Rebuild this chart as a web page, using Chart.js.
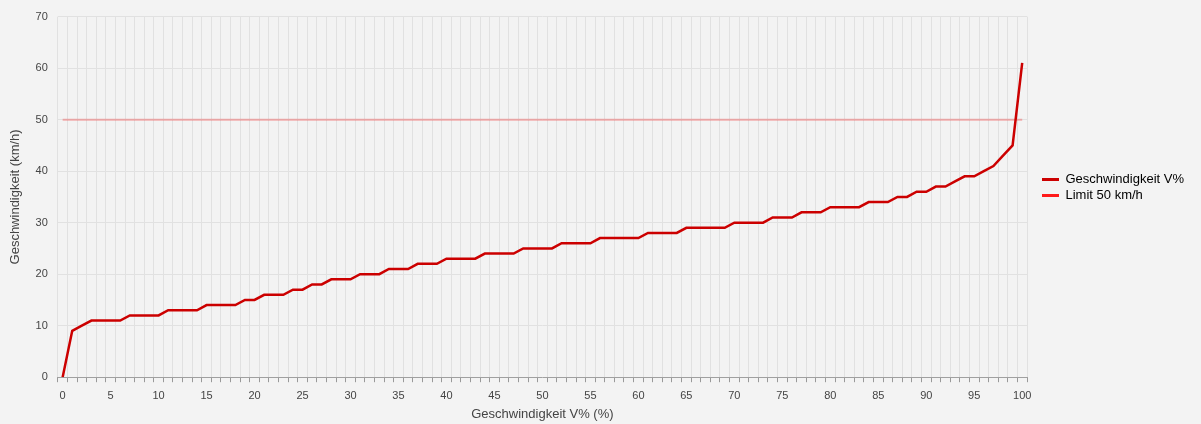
<!DOCTYPE html>
<html>
<head>
<meta charset="utf-8">
<title>Geschwindigkeit V%</title>
<script src="https://cdn.jsdelivr.net/npm/chart.js@4.4.1/dist/chart.umd.min.js"></script>
<style>
   html, body { margin: 0; padding: 0; background: #f3f3f3; }
   #wrap { width: 1201px; height: 424px; }
</style>
</head>
<body>
<div id="wrap"><canvas id="speedChart" width="1201" height="424"></canvas></div>
<script>
'use strict';

// percentile categories (V%)
var percentLabels = [0, 1, 2, 3, 4, 5, 6, 7, 8, 9, 10, 11, 12, 13, 14, 15, 16, 17, 18, 19, 20,
   21, 22, 23, 24, 25, 26, 27, 28, 29, 30, 31, 32, 33, 34, 35, 36, 37, 38, 39, 40,
   41, 42, 43, 44, 45, 46, 47, 48, 49, 50, 51, 52, 53, 54, 55, 56, 57, 58, 59, 60,
   61, 62, 63, 64, 65, 66, 67, 68, 69, 70, 71, 72, 73, 74, 75, 76, 77, 78, 79, 80,
   81, 82, 83, 84, 85, 86, 87, 88, 89, 90, 91, 92, 93, 94, 95, 96, 97, 98, 99, 100];

// speed in km/h for each percentile
var speedValues = [0, 9, 10, 11, 11, 11, 11, 12, 12, 12, 12, 13, 13, 13, 13, 14, 14, 14, 14, 15, 15,
   16, 16, 16, 17, 17, 18, 18, 19, 19, 19, 20, 20, 20, 21, 21, 21, 22, 22, 22, 23,
   23, 23, 23, 24, 24, 24, 24, 25, 25, 25, 25, 26, 26, 26, 26, 27, 27, 27, 27, 27,
   28, 28, 28, 28, 29, 29, 29, 29, 29, 30, 30, 30, 30, 31, 31, 31, 32, 32, 32, 33,
   33, 33, 33, 34, 34, 34, 35, 35, 36, 36, 37, 37, 38, 39, 39, 40, 41, 43, 45, 61];

var limitValues = [50, 50, 50, 50, 50, 50, 50, 50, 50, 50, 50, 50, 50, 50, 50, 50, 50, 50, 50, 50, 50,
   50, 50, 50, 50, 50, 50, 50, 50, 50, 50, 50, 50, 50, 50, 50, 50, 50, 50, 50, 50,
   50, 50, 50, 50, 50, 50, 50, 50, 50, 50, 50, 50, 50, 50, 50, 50, 50, 50, 50, 50,
   50, 50, 50, 50, 50, 50, 50, 50, 50, 50, 50, 50, 50, 50, 50, 50, 50, 50, 50, 50,
   50, 50, 50, 50, 50, 50, 50, 50, 50, 50, 50, 50, 50, 50, 50, 50, 50, 50, 50, 50];

var seriesNames = ['Geschwindigkeit V%', 'Limit 50 km/h'];
var yTicks = [0, 10, 20, 30, 40, 50, 60, 70];

(function () {
   Chart.defaults.font.family = '"Liberation Sans", Arial, sans-serif';
   Chart.defaults.color = '#444';

   // nudge the legend a little away from the plot and up, like the original
   var legendNudge = {
      id: 'legendNudge',
      afterLayout: function (c) {
         var lg = c.legend;
         if (!lg) return;
         lg.left += 12; lg.right += 12;
         lg.top -= 29; lg.bottom -= 29;
      }
   };

   var ctx = document.getElementById('speedChart').getContext('2d');
   var chart = new Chart(ctx, {
      type: 'line',
      data: {
         labels: percentLabels,
         datasets: [{
            label: seriesNames[0],
            data: speedValues,
            borderColor: '#cc0000',
            backgroundColor: '#cc0000',
            borderWidth: 2.5,
            pointRadius: 0,
            tension: 0,
            order: 0
         }, {
            label: seriesNames[1],
            data: limitValues,
            borderColor: 'rgba(240, 90, 90, 0.45)',
            backgroundColor: '#ff1a1a',
            borderWidth: 2,
            pointRadius: 0,
            tension: 0,
            order: 1
         }]
      },
      plugins: [legendNudge],
      options: {
         responsive: false,
         animation: false,
         devicePixelRatio: 1,
         layout: {
            padding: { top: 9, right: 19, left: 8, bottom: 0 }
         },
         plugins: {
            tooltip: { enabled: false },
            legend: {
               position: 'right',
               labels: {
                  boxWidth: 17,
                  boxHeight: 3,
                  padding: 3,
                  color: '#333',
                  font: { size: 13 },
                  generateLabels: function (c) {
                     return c.data.datasets.map(function (ds, i) {
                        return {
                           text: ds.label,
                           fillStyle: ds.backgroundColor,
                           strokeStyle: ds.backgroundColor,
                           lineWidth: 0,
                           datasetIndex: i
                        };
                     });
                  }
               }
            }
         },
         scales: {
            x: {
               type: 'category',
               offset: true,
               grid: {
                  offset: true,
                  color: '#e1e1e1',
                  tickColor: '#999',
                  tickLength: 5
               },
               border: { color: '#a0a0a0' },
               ticks: {
                  autoSkip: false,
                  maxRotation: 0,
                  padding: 7,
                  font: { size: 11 },
                  callback: function (val, idx) {
                     return idx % 5 === 0 ? percentLabels[idx] : '';
                  }
               },
               title: {
                  display: true,
                  text: 'Geschwindigkeit V% (%)',
                  font: { size: 13 },
                  padding: { top: -3, bottom: 2 }
               }
            },
            y: {
               min: yTicks[0],
               max: yTicks[yTicks.length - 1],
               grid: { color: '#e1e1e1', drawTicks: false },
               border: { display: false },
               afterBuildTicks: function (scale) {
                  scale.ticks = yTicks.map(function (v) { return { value: v }; });
               },
               ticks: {
                  padding: 10,
                  font: { size: 11 }
               },
               title: {
                  display: true,
                  text: 'Geschwindigkeit (km/h)',
                  font: { size: 13 },
                  padding: { top: 0, bottom: 2 }
               }
            }
         }
      }
   });
})();
</script>
</body>
</html>
